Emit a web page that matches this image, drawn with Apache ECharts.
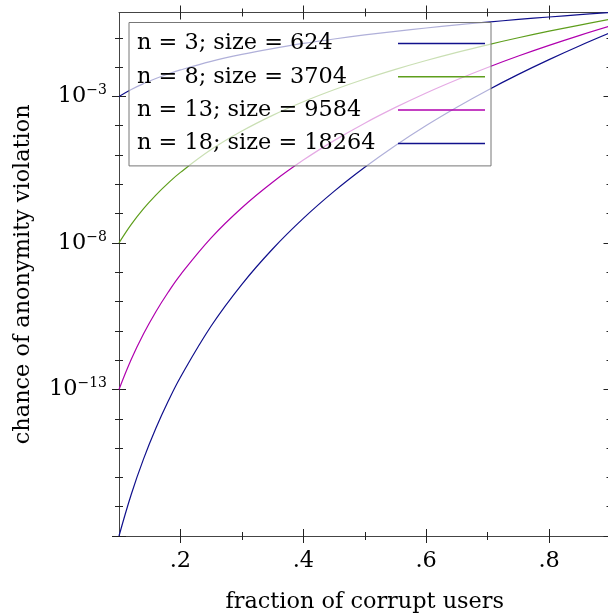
<!DOCTYPE html>
<html>
<head>
<meta charset="utf-8">
<script src="https://cdn.jsdelivr.net/npm/echarts@6/dist/echarts.min.js"></script>
<style>
html, body { margin: 0; padding: 0; background: #fff; }
#chart { width: 608px; height: 615px; }
</style>
</head>
<body>
<div id="chart"></div>
<script>
// fraction of corrupt users (x) and chance of violation per curve
var fractions = [0.1, 0.12, 0.14, 0.16, 0.18, 0.2, 0.25, 0.3, 0.35, 0.4, 0.45, 0.5, 0.55, 0.6, 0.65, 0.7, 0.75, 0.8, 0.85, 0.9];
var chanceN3 = [1.0e-3, 1.73e-3, 2.74e-3, 4.10e-3, 5.83e-3, 8.0e-3, 1.56e-2, 2.7e-2, 4.29e-2, 6.4e-2, 9.11e-2, 0.125, 0.166, 0.216, 0.275, 0.343, 0.422, 0.512, 0.614, 0.729];
var chanceN8 = [1.0e-8, 4.30e-8, 1.48e-7, 4.29e-7, 1.10e-6, 2.56e-6, 1.53e-5, 6.56e-5, 2.25e-4, 6.55e-4, 1.68e-3, 3.91e-3, 8.37e-3, 1.68e-2, 3.19e-2, 5.76e-2, 0.100, 0.168, 0.272, 0.430];
var chanceN13 = [1.0e-13, 1.07e-12, 7.94e-12, 4.50e-11, 2.08e-10, 8.19e-10, 1.49e-8, 1.59e-7, 1.18e-6, 6.71e-6, 3.10e-5, 1.22e-4, 4.21e-4, 1.31e-3, 3.70e-3, 9.69e-3, 2.38e-2, 5.50e-2, 0.121, 0.254];
var chanceN18 = [1.0e-18, 2.66e-17, 4.27e-16, 4.72e-15, 3.93e-14, 2.62e-13, 1.46e-11, 3.87e-10, 6.21e-9, 6.87e-8, 5.73e-7, 3.81e-6, 2.12e-5, 1.02e-4, 4.29e-4, 1.63e-3, 5.64e-3, 1.80e-2, 5.36e-2, 0.150];
var seriesNames = ['n = 3; size = 624', 'n = 8; size = 3704', 'n = 13; size = 9584', 'n = 18; size = 18264'];

// ticks
var xMajorTicks = [0.2, 0.4, 0.6, 0.8];
var xTickLabels = ['.2', '.4', '.6', '.8'];
var xMinorTicks = [0.3, 0.5, 0.7];
var yMajorTicks = [1e-18, 1e-13, 1e-8, 1e-3];
var yLabelTicks = [1e-13, 1e-8, 1e-3];
var yMinorTicks = [1e-17, 1e-16, 1e-15, 1e-14, 1e-12, 1e-11, 1e-10, 1e-9, 1e-7, 1e-6, 1e-5, 1e-4, 1e-2, 1e-1];

var FONT = 'DejaVu Serif';
var FS = 22.4;
var colors = ['#10108c', '#5e9e1c', '#b000ae', '#10108c'];

// ticks in racket plots cross the axis, so every tick set is drawn twice (in + out)
function xAx(pos, ticks, inside, len, main) {
    var ax = {
        type: 'value', position: pos, min: 0.1, max: 0.9,
        axisLine: { show: !!main, onZero: false, lineStyle: { color: '#444', width: 1 } },
        axisTick: { show: true, customValues: ticks, inside: inside, length: len, lineStyle: { color: '#222', width: 1 } },
        axisLabel: { show: false },
        splitLine: { show: false }
    };
    if (main === 'labels') {
        ax.axisLabel = {
            show: true, customValues: xMajorTicks, margin: 14,
            fontFamily: FONT, fontSize: FS, color: '#000',
            formatter: function (v) {
                for (var i = 0; i < xMajorTicks.length; i++) {
                    if (Math.abs(xMajorTicks[i] - v) < 1e-6) return xTickLabels[i];
                }
                return '';
            }
        };
        ax.name = 'fraction of corrupt users';
        ax.nameLocation = 'middle';
        ax.nameGap = 55;
        ax.nameTextStyle = { fontFamily: FONT, fontSize: FS, color: '#000' };
    }
    return ax;
}

function yAx(pos, ticks, inside, len, main) {
    var ax = {
        type: 'log', logBase: 10, position: pos, min: 1e-18, max: 0.729,
        axisLine: { show: !!main, onZero: false, lineStyle: { color: '#444', width: 1 } },
        axisTick: { show: true, customValues: ticks, inside: inside, length: len, lineStyle: { color: '#222', width: 1 } },
        axisLabel: { show: false },
        splitLine: { show: false }
    };
    if (main === 'labels') {
        ax.axisLabel = {
            show: true, customValues: yLabelTicks, margin: 12,
            fontFamily: FONT, fontSize: FS, color: '#000',
            formatter: function (v) {
                var e = Math.round(Math.log(v) / Math.LN10);
                return '{b|10}{s|\u2212' + (-e) + '}';
            },
            rich: {
                b: { fontFamily: FONT, fontSize: FS, color: '#000' },
                s: { fontFamily: FONT, fontSize: 14, color: '#000', padding: [0, 0, 12, 0] }
            }
        };
        ax.name = 'chance of anonymity violation';
        ax.nameLocation = 'middle';
        ax.nameGap = 85;
        ax.nameTextStyle = { fontFamily: FONT, fontSize: FS, color: '#000' };
    }
    return ax;
}

var myChart = echarts.init(document.getElementById('chart'), null, { renderer: 'canvas' });

var series = [chanceN3, chanceN8, chanceN13, chanceN18].map(function (vals, i) {
    return {
        name: seriesNames[i],
        type: 'line',
        xAxisIndex: 0,
        yAxisIndex: 0,
        smooth: 0.4,
        symbol: 'none',
        clip: true,
        lineStyle: { color: colors[i], width: 1.2 },
        itemStyle: { color: colors[i] },
        data: fractions.map(function (x, j) { return [x, vals[j]]; })
    };
});

var option = {
    animation: false,
    backgroundColor: '#fff',
    grid: { left: 119, right: -2.5, top: 12.5, bottom: 79, outerBoundsMode: 'none', containLabel: false },
    xAxis: [
        xAx('bottom', xMajorTicks, false, 7, 'labels'),
        xAx('bottom', xMajorTicks, true, 7),
        xAx('bottom', xMinorTicks, false, 4),
        xAx('bottom', xMinorTicks, true, 4),
        xAx('top', xMajorTicks, false, 7, true),
        xAx('top', xMajorTicks, true, 7),
        xAx('top', xMinorTicks, false, 4),
        xAx('top', xMinorTicks, true, 4)
    ],
    yAxis: [
        yAx('left', yMajorTicks, false, 7, 'labels'),
        yAx('left', yMajorTicks, true, 7),
        yAx('left', yMinorTicks, false, 4),
        yAx('left', yMinorTicks, true, 4),
        yAx('right', yMajorTicks, true, 7, true),
        yAx('right', yMinorTicks, true, 4)
    ],
    legend: {
        orient: 'vertical',
        left: 129,
        top: 22.5,
        align: 'right',
        icon: 'rect',
        itemWidth: 87,
        itemHeight: 1.5,
        itemGap: 11.3,
        padding: [10, 6, 11.5, 8],
        backgroundColor: 'rgba(255,255,255,0.67)',
        borderColor: '#777',
        borderWidth: 1,
        borderRadius: 0,
        data: seriesNames,
        formatter: function (name) { return '{t|' + name + '}'; },
        textStyle: {
            fontFamily: FONT, fontSize: FS, color: '#000',
            rich: { t: { fontFamily: FONT, fontSize: FS, color: '#000', width: 256, align: 'left' } }
        }
    },
    series: series
};

myChart.setOption(option);
</script>
</body>
</html>
